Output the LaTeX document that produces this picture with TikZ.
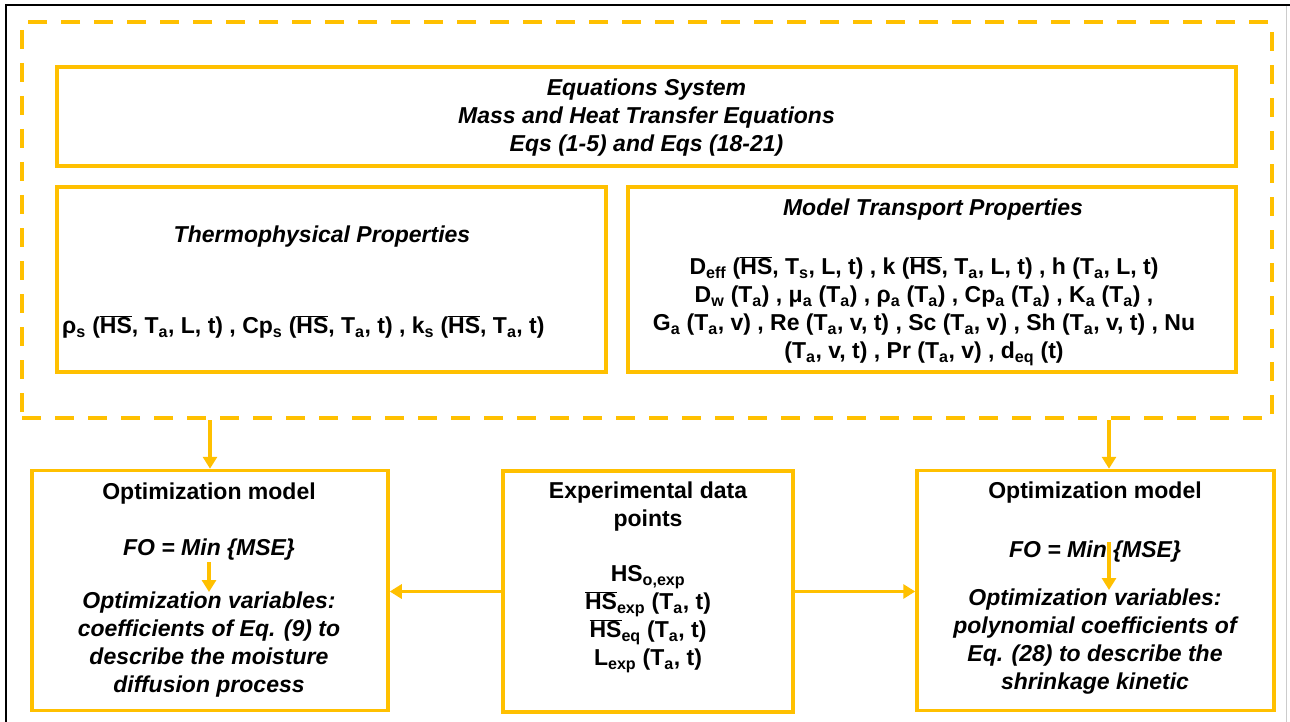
\documentclass[tikz,border=0pt]{standalone}
\usepackage{fontspec}
\setmainfont{Liberation Sans}
\usetikzlibrary{arrows.meta}
\definecolor{gold}{RGB}{255,192,0}
\newcommand{\HSb}{\ensuremath{\overline{\mbox{HS}}}}
\newcommand{\sbs}[1]{\textsubscript{#1}}
\tikzset{
  boxst/.style={draw=gold, line width=3.5pt, inner sep=0pt, rectangle},
  txt/.style={inner sep=0pt, align=center, font=\fontsize{23}{28}\selectfont\bfseries},
  itxt/.style={inner sep=0pt, align=center, font=\fontsize{23}{28}\selectfont\bfseries\itshape},
  arr/.style={draw=gold, line width=3.5pt, -{Triangle[length=12pt,width=14pt]}},
}
\begin{document}
\begin{tikzpicture}[x=1pt,y=-1pt]
\useasboundingbox[fill=white] (0,0) rectangle (1290,722);
% page frame
\draw[line width=2pt] (6,722) -- (6,5) -- (1290,5);
\draw[black!20, line width=1pt] (1286,6) -- (1286,722);
% outer dashed container
\node[draw=gold, line width=4pt, dash pattern=on 19pt off 14pt, inner sep=0pt,
      minimum width=1250pt, minimum height=396pt] (outer) at (647,220) {};
% equations system
\node[boxst, minimum width=1179pt, minimum height=99pt] (eqs) at (646.5,116.5) {};
\node[itxt] (eqst) at (646.5,118) {Equations System\\Mass and Heat Transfer Equations\\Eqs (1-5) and Eqs (18-21)};
% thermophysical
\node[boxst, minimum width=549pt, minimum height=185pt] (thermo) at (331.5,279.5) {};
\node[itxt] (thermot) at (322,237) {Thermophysical Properties};
\node[txt, anchor=west] (thermof) at (62,327) {ρ\sbs{s} (\HSb, T\sbs{a}, L, t) , Cp\sbs{s} (\HSb, T\sbs{a}, t) , k\sbs{s} (\HSb, T\sbs{a}, t)};
% transport
\node[boxst, minimum width=608pt, minimum height=185pt] (trans) at (932,279.5) {};
\node[itxt] (transt) at (933,210) {Model Transport Properties};
\node[txt] (transf) at (924,311.5) {D\sbs{eff} (\HSb, T\sbs{s}, L, t) , k (\HSb, T\sbs{a}, L, t) , h (T\sbs{a}, L, t)\\
D\sbs{w} (T\sbs{a}) , μ\sbs{a} (T\sbs{a}) , ρ\sbs{a} (T\sbs{a}) , Cp\sbs{a} (T\sbs{a}) , K\sbs{a} (T\sbs{a}) ,\\
G\sbs{a} (T\sbs{a}, v) , Re (T\sbs{a}, v, t) , Sc (T\sbs{a}, v) , Sh (T\sbs{a}, v, t) , Nu\\
(T\sbs{a}, v, t) , Pr (T\sbs{a}, v) , d\sbs{eq} (t)};
% bottom left
\node[boxst, minimum width=356pt, minimum height=240pt] (optl) at (210,590.5) {};
\node[txt] (optlt) at (209,494) {Optimization model};
\node[itxt] (optlfo) at (209,550) {FO = Min \{MSE\}};
\node[itxt] (optlv) at (209,645) {Optimization variables:\\coefficients of Eq. (9) to\\describe the moisture\\diffusion process};
\coordinate (la) at (209,562);
\coordinate (lb) at (209,592);
\draw[arr] (la) -- (lb);
% middle
\node[boxst, minimum width=290pt, minimum height=241pt] (exp) at (648,591.5) {};
\node[txt] (expt) at (648,507) {Experimental data\\points};
\node[txt] (expd) at (648,619) {HS\sbs{o,exp}\\\HSb\sbs{exp} (T\sbs{a}, t)\\\HSb\sbs{eq} (T\sbs{a}, t)\\L\sbs{exp} (T\sbs{a}, t)};
% bottom right
\node[boxst, minimum width=357pt, minimum height=240pt] (optr) at (1095.5,590.5) {};
\node[txt] (optrt) at (1095,493) {Optimization model};
\node[itxt] (optrfo) at (1095,552) {FO = Min \{MSE\}};
\node[itxt] (optrv) at (1095,642) {Optimization variables:\\polynomial coefficients of\\Eq. (28) to describe the\\shrinkage kinetic};
\coordinate (ra) at (1109,542);
\coordinate (rb) at (1109,590);
\draw[arr] (ra) -- (rb);
% connectors
\draw[arr] (optl.north |- outer.south) -- (optl.north);
\coordinate (rtop) at (1109,471);
\draw[arr] (rtop |- outer.south) -- (rtop |- optr.north);
\draw[arr] (exp.west) -- (exp.west -| optl.east);
\draw[arr] (exp.east) -- (exp.east -| optr.west);
\end{tikzpicture}
\end{document}
